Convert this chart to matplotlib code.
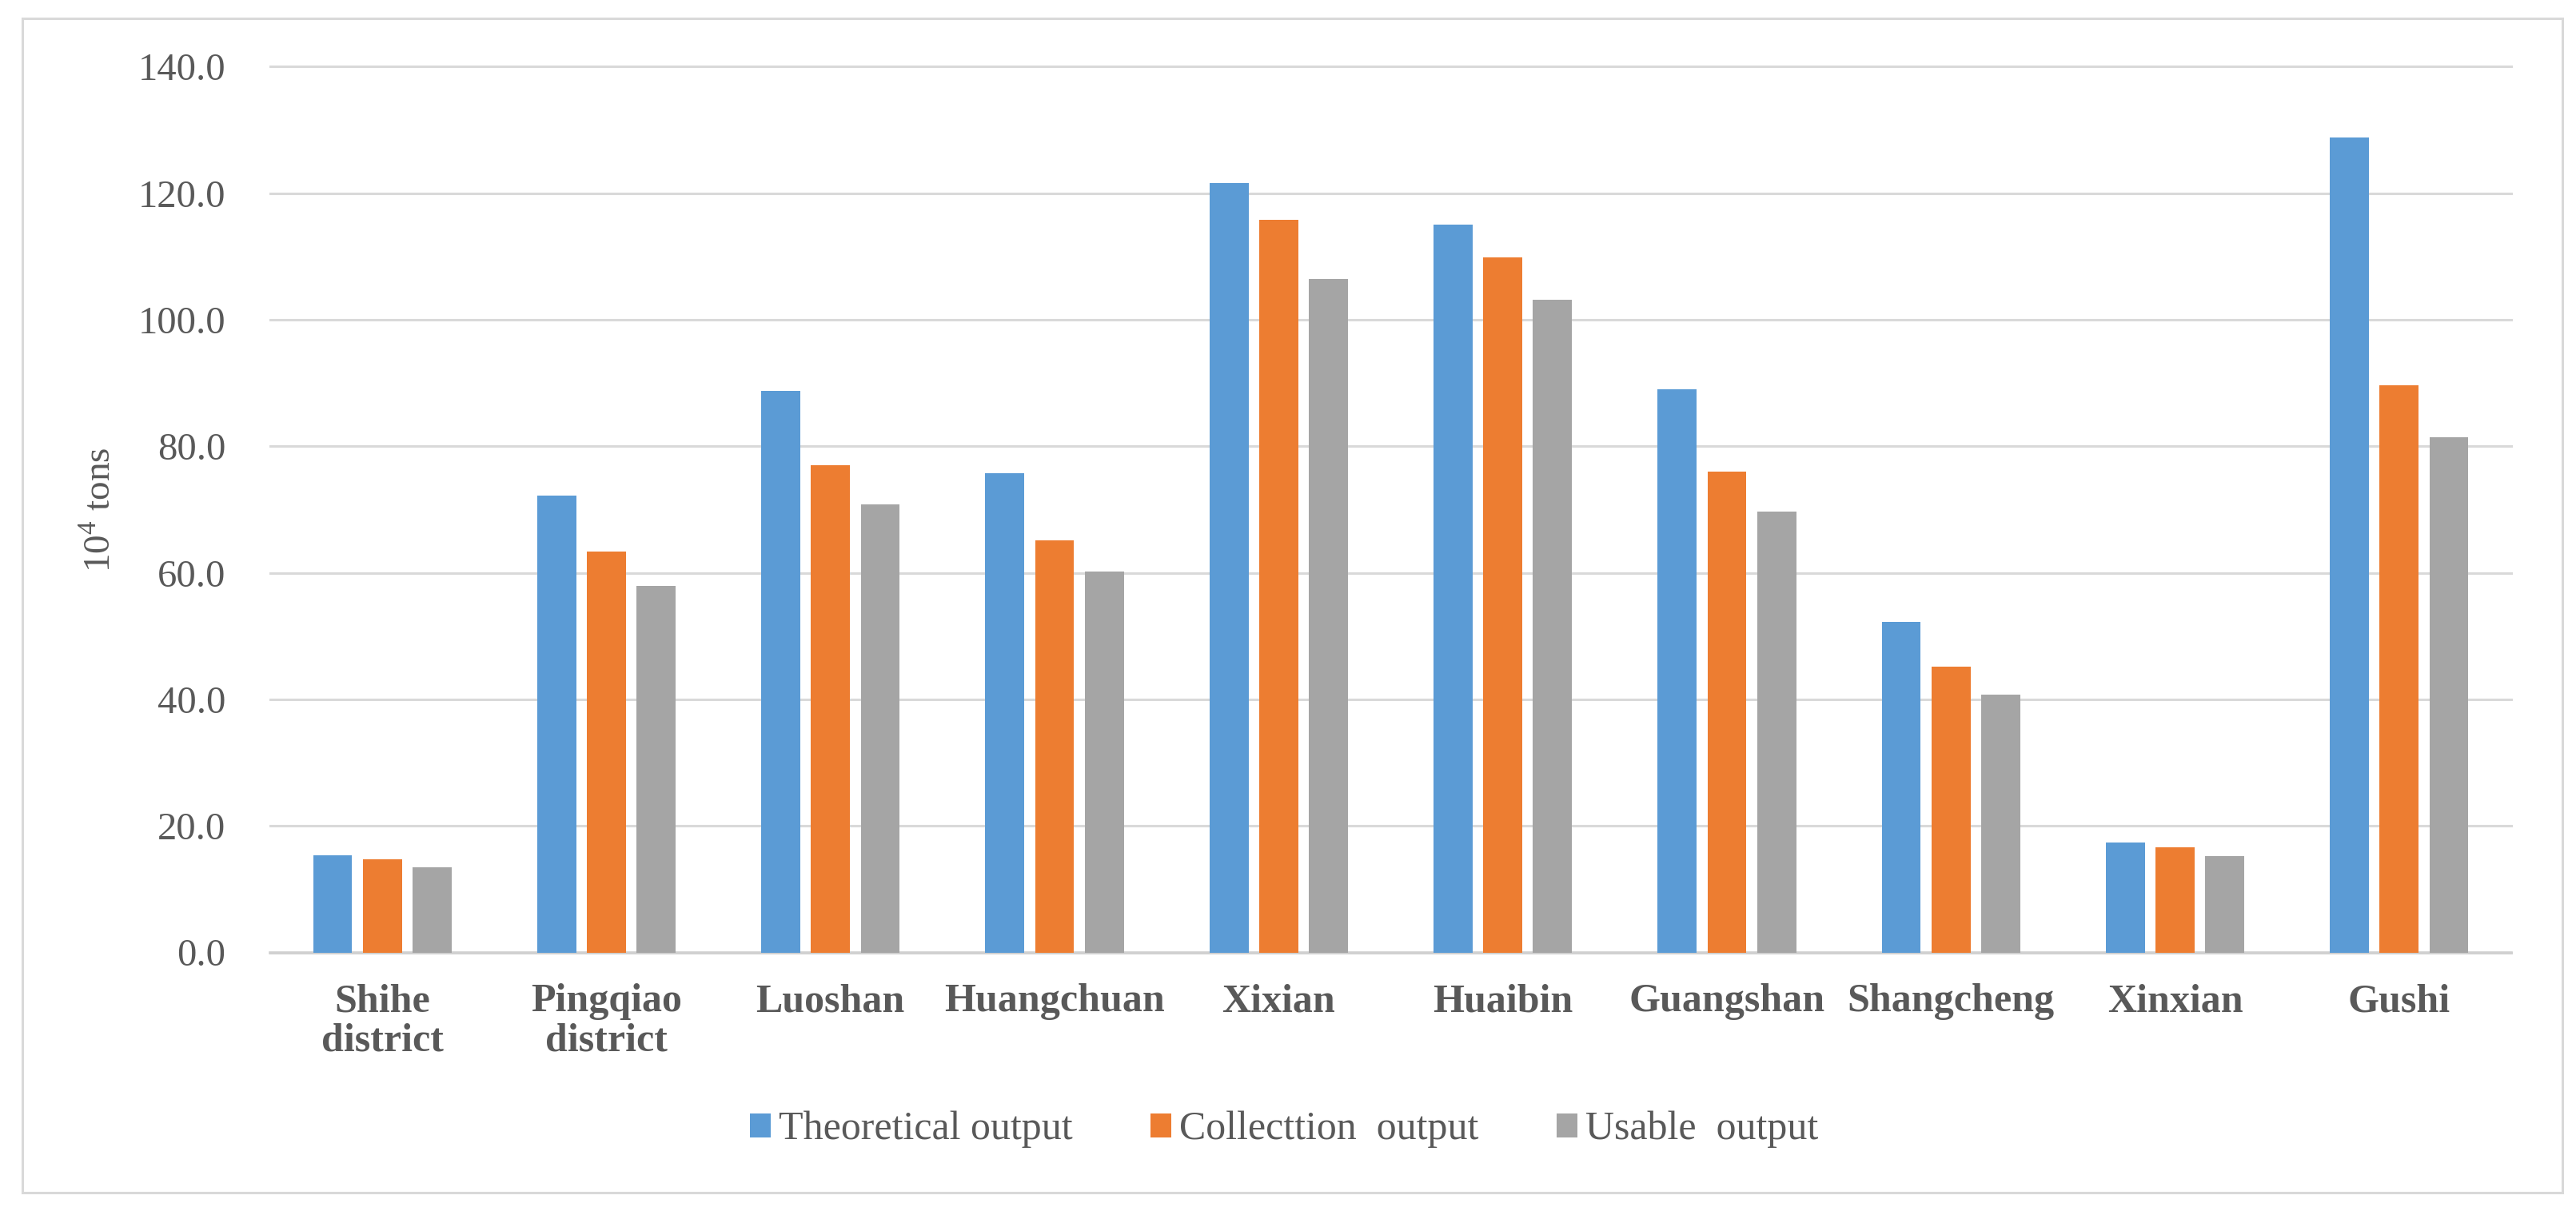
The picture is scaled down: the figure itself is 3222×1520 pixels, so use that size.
import numpy as np
import matplotlib
matplotlib.use('Agg')
import matplotlib.pyplot as plt
from matplotlib.patches import Rectangle

# Data (unit: 10^4 tons)
counties = ['Shihe\ndistrict', 'Pingqiao\ndistrict', 'Luoshan', 'Huangchuan', 'Xixian',
            'Huaibin', 'Guangshan', 'Shangcheng', 'Xinxian', 'Gushi']
theoretical = [15.3, 72.2, 88.7, 75.7, 121.6, 115.0, 89.0, 52.3, 17.4, 128.8]
collection = [14.7, 63.3, 77.0, 65.1, 115.8, 109.8, 76.0, 45.2, 16.6, 89.6]
usable = [13.5, 57.9, 70.8, 60.2, 106.5, 103.2, 69.7, 40.8, 15.2, 81.4]
series_names = ['Theoretical output', 'Collecttion  output', 'Usable  output']
yticks = [0, 20, 40, 60, 80, 100, 120, 140]

colors = ['#5B9BD5', '#ED7D31', '#A5A5A5']
text_color = '#595959'
grid_color = '#D9D9D9'

plt.rcParams['font.family'] = ['Liberation Serif', 'DejaVu Serif']
plt.rcParams['mathtext.fontset'] = 'custom'
plt.rcParams['mathtext.rm'] = 'Liberation Serif'

W, H = 3222, 1520
fig = plt.figure(figsize=(W / 100, H / 100), dpi=100)
fig.patch.set_facecolor('white')

# plot area in pixels: x 338..3141, y 83..1191
ax = fig.add_axes([338 / W, 1 - 1191.5 / H, (3141 - 338) / W, (1191.5 - 83.4) / H])

x = np.arange(len(counties))
width = 0.174
step = 0.222
for i, (vals, name) in enumerate(zip([theoretical, collection, usable], series_names)):
    ax.bar(x + (i - 1) * step, vals, width, color=colors[i], label=name, linewidth=0, zorder=3)

ax.set_xlim(-0.5, len(counties) - 0.5)
ax.set_ylim(0, 140)
ax.set_yticks(yticks)
ax.set_yticklabels(['%.1f' % v for v in yticks], fontsize=35, color=text_color)
ax.set_xticks(x)
ax.set_xticklabels(counties, fontsize=36, fontweight='bold', color=text_color, linespacing=1.1)
ax.tick_params(axis='y', length=0, pad=40)
ax.tick_params(axis='x', length=0, pad=28)

ax.grid(axis='y', color=grid_color, linewidth=2.2, zorder=0)
ax.set_axisbelow(True)
for s in ['top', 'right', 'left']:
    ax.spines[s].set_visible(False)
ax.spines['bottom'].set_color('#D0D0D0')
ax.spines['bottom'].set_linewidth(2.6)
for gl in ax.get_ygridlines():
    gl.set_clip_on(False)

ax.set_ylabel('10$^{4}$ tons', fontsize=34, color=text_color)
ax.yaxis.label.set(ha='center', va='center')
ax.yaxis.set_label_coords((126 - 338) / (3141 - 338), 0.5)

leg = fig.legend(loc='center', bbox_to_anchor=(0.4985, 1 - 1413 / H), ncol=3, frameon=False,
                 fontsize=36, handlelength=0.52, handleheight=0.55, handletextpad=0.2,
                 columnspacing=1.95)
for t in leg.get_texts():
    t.set_color(text_color)

# light grey border around the whole chart
fig.patches.append(Rectangle((28 / W, 1 - 1492 / H), (3205 - 28) / W, (1492 - 23) / H,
                             transform=fig.transFigure, fill=False,
                             edgecolor=grid_color, linewidth=2.2))

fig.savefig('out.png', dpi=100)
